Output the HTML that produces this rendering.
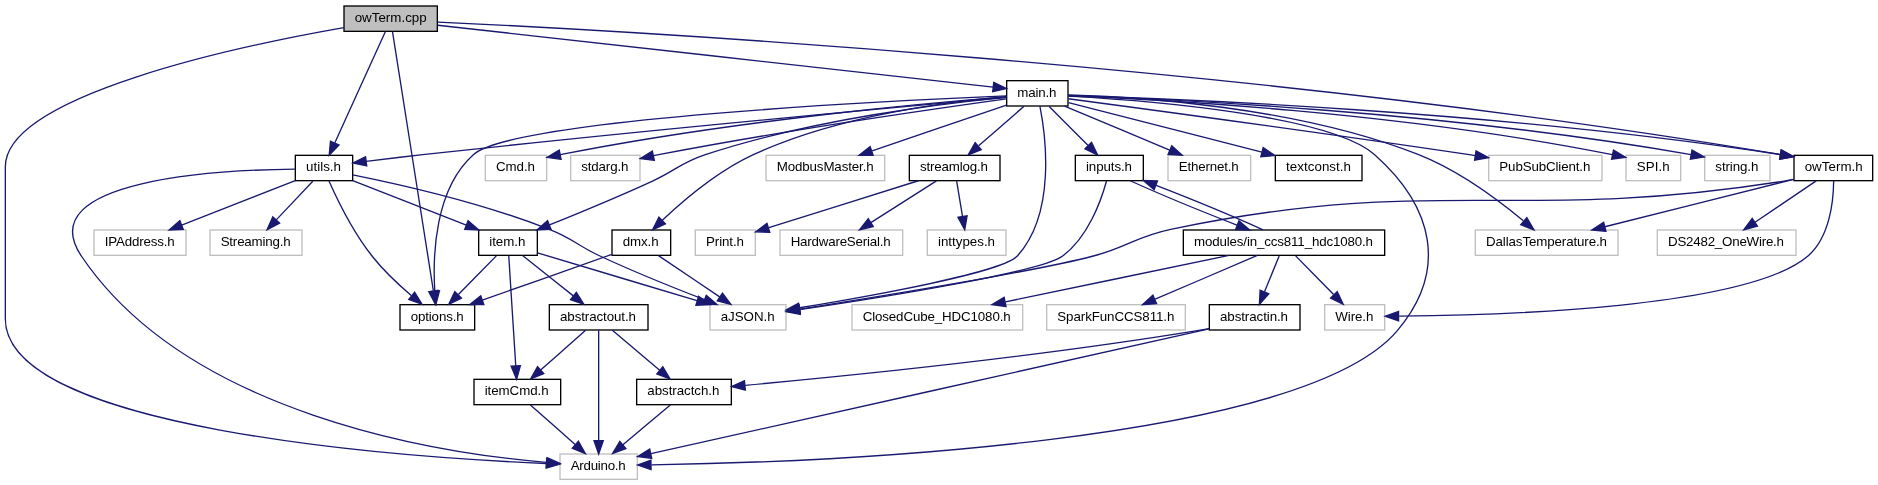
<!DOCTYPE html>
<html lang="en"><head><meta charset="utf-8"><title>owTerm.cpp include graph</title>
<style>html,body{margin:0;padding:0;background:#fff;overflow:hidden}svg{display:block;will-change:transform}.t{filter:grayscale(1);opacity:1}text{font-family:"Liberation Sans",Arial,Helvetica,sans-serif;font-size:10px;fill:#000}.e path{fill:none;stroke:#191970}.e polygon{fill:#191970;stroke:#191970}</style></head><body>
<svg width="1878" height="485" viewBox="0 0 1408.5 363.75">
<rect x="0" y="0" width="1408.5" height="363.75" fill="#fff"/>
<g transform="translate(4 360)">
<rect x="254" y="-355.5" width="70" height="19" fill="#bfbfbf" stroke="black"/>
<rect x="217.5" y="-243.5" width="43" height="19" fill="white" stroke="black"/>
<g class="e"><path d="M285.08,-336.37C276.93,-318.46 258.06,-276.92 247.16,-252.95"/><polygon points="250.23,-251.25 242.91,-243.59 243.86,-254.14 250.23,-251.25"/></g>
<rect x="416" y="-19.5" width="58" height="19" fill="white" stroke="#bfbfbf"/>
<g class="e"><path d="M253.85,-339.27C176.83,-325.72 0,-288.75 0,-235 0,-235 0,-235 0,-121 0,-37.82 296.71,-17.14 405.57,-12.35"/><polygon points="405.96,-15.84 415.8,-11.92 405.66,-8.84 405.96,-15.84"/></g>
<rect x="296" y="-131.5" width="56" height="19" fill="white" stroke="black"/>
<g class="e"><path d="M290.37,-336.3C295.52,-303.63 313.77,-187.87 321.01,-141.96"/><polygon points="324.5,-142.31 322.6,-131.88 317.58,-141.22 324.5,-142.31"/></g>
<rect x="1341.5" y="-243.5" width="59" height="19" fill="white" stroke="black"/>
<g class="e"><path d="M324.4,-343.45C456.45,-337.26 932.8,-311.44 1331.21,-244.13"/><polygon points="1331.93,-247.56 1341.2,-242.43 1330.76,-240.66 1331.93,-247.56"/></g>
<rect x="751" y="-299.5" width="46" height="19" fill="white" stroke="black"/>
<g class="e"><path d="M324.27,-341.07C414.55,-331.02 653.05,-304.47 740.9,-294.69"/><polygon points="741.3,-298.16 750.85,-293.58 740.52,-291.21 741.3,-298.16"/></g>
<g class="e"><path d="M217.28,-233.1C161.13,-232.54 18.18,-225.59 57,-168 137.08,-49.21 323.93,-20.27 405.61,-13.24"/><polygon points="406.26,-16.7 415.95,-12.42 405.71,-9.72 406.26,-16.7"/></g>
<rect x="66.5" y="-187.5" width="69" height="19" fill="white" stroke="#bfbfbf"/>
<g class="e"><path d="M217.44,-224.56C194.58,-215.62 158.27,-201.41 132.28,-191.24"/><polygon points="133.45,-187.94 122.87,-187.56 130.9,-194.46 133.45,-187.94"/></g>
<rect x="153.5" y="-187.5" width="69" height="19" fill="white" stroke="#bfbfbf"/>
<g class="e"><path d="M230.58,-224.08C223.15,-216.22 212.15,-204.57 203.19,-195.08"/><polygon points="205.68,-192.62 196.26,-187.75 200.59,-197.42 205.68,-192.62"/></g>
<rect x="528.5" y="-131.5" width="57" height="19" fill="white" stroke="#bfbfbf"/>
<g class="e"><path d="M260.57,-228.88C293.17,-222.29 356.67,-208.05 408,-188 425.78,-181.06 428.69,-176.04 446,-168 471.96,-155.94 502.09,-143.84 524.4,-135.23"/><polygon points="525.67,-138.5 533.75,-131.65 523.16,-131.96 525.67,-138.5"/></g>
<g class="e"><path d="M242.65,-224.47C248.41,-211.52 260.48,-186.45 275,-168 283.62,-157.05 295,-146.43 304.62,-138.25"/><polygon points="307.02,-140.81 312.51,-131.75 302.57,-135.41 307.02,-140.81"/></g>
<rect x="355" y="-187.5" width="44" height="19" fill="white" stroke="black"/>
<g class="e"><path d="M260.56,-224.56C283.42,-215.62 319.73,-201.41 345.72,-191.24"/><polygon points="347.1,-194.46 355.13,-187.56 344.55,-187.94 347.1,-194.46"/></g>
<g class="e"><path d="M399.07,-170.38C428.85,-161.45 482.34,-145.4 518.74,-134.48"/><polygon points="519.94,-137.77 528.52,-131.55 517.93,-131.07 519.94,-137.77"/></g>
<g class="e"><path d="M368.25,-168.08C360.53,-160.22 349.1,-148.57 339.78,-139.08"/><polygon points="342.09,-136.44 332.59,-131.75 337.1,-141.34 342.09,-136.44"/></g>
<rect x="408" y="-131.5" width="74" height="19" fill="white" stroke="black"/>
<g class="e"><path d="M387.93,-168.32C398.17,-160.18 413.72,-147.84 426,-138.09"/><polygon points="428.22,-140.79 433.88,-131.83 423.87,-135.31 428.22,-140.79"/></g>
<rect x="351.5" y="-75.5" width="65" height="19" fill="white" stroke="black"/>
<g class="e"><path d="M377.55,-168.37C378.68,-150.62 381.28,-109.67 382.82,-85.6"/><polygon points="386.31,-85.79 383.45,-75.59 379.33,-85.35 386.31,-85.79"/></g>
<g class="e"><path d="M445,-112.37C445,-94.62 445,-53.67 445,-29.6"/><polygon points="448.5,-29.59 445,-19.59 441.5,-29.59 448.5,-29.59"/></g>
<rect x="473.5" y="-75.5" width="71" height="19" fill="white" stroke="black"/>
<g class="e"><path d="M455.28,-112.32C464.84,-104.26 479.28,-92.08 490.78,-82.37"/><polygon points="493.14,-84.96 498.53,-75.83 488.63,-79.61 493.14,-84.96"/></g>
<g class="e"><path d="M435.2,-112.32C426.18,-104.34 412.59,-92.31 401.68,-82.65"/><polygon points="403.79,-79.84 393.98,-75.83 399.15,-85.08 403.79,-79.84"/></g>
<g class="e"><path d="M498.72,-56.32C489.16,-48.26 474.72,-36.08 463.22,-26.37"/><polygon points="465.37,-23.61 455.47,-19.83 460.86,-28.96 465.37,-23.61"/></g>
<g class="e"><path d="M393.8,-56.32C402.82,-48.34 416.41,-36.31 427.32,-26.65"/><polygon points="429.85,-29.08 435.02,-19.83 425.21,-23.84 429.85,-29.08"/></g>
<g class="e"><path d="M1341.22,-225.49C1338.45,-224.93 1335.68,-224.42 1333,-224 1130.84,-192.33 1074.33,-229.69 874,-188 847.3,-182.44 842.41,-174.8 816,-168 775.06,-157.06 657.71,-137.8 596,-128.19"/><polygon points="596.29,-124.69 585.88,-126.62 595.22,-131.61 596.29,-124.69"/></g>
<rect x="989.5" y="-131.5" width="45" height="19" fill="white" stroke="#bfbfbf"/>
<g class="e"><path d="M1371.24,-224.27C1371.11,-210.1 1368.6,-182.24 1352,-168 1306.45,-128.93 1121.81,-123.49 1045.38,-122.94"/><polygon points="1044.93,-119.44 1034.92,-122.89 1044.9,-126.44 1044.93,-119.44"/></g>
<rect x="1102.5" y="-187.5" width="107" height="19" fill="white" stroke="#bfbfbf"/>
<g class="e"><path d="M1341.11,-225.49C1304.36,-216.26 1241.71,-200.53 1199.6,-189.95"/><polygon points="1200.44,-186.55 1189.89,-187.51 1198.74,-193.34 1200.44,-186.55"/></g>
<rect x="1239" y="-187.5" width="104" height="19" fill="white" stroke="#bfbfbf"/>
<g class="e"><path d="M1358.15,-224.32C1345.78,-215.98 1326.87,-203.21 1312.26,-193.35"/><polygon points="1314.07,-190.35 1303.82,-187.65 1310.15,-196.15 1314.07,-190.35"/></g>
<g class="e"><path d="M750.96,-286.95C683.54,-280.89 480.87,-262.4 313,-244 299.09,-242.48 283.74,-240.63 270.63,-239.01"/><polygon points="271.04,-235.54 260.68,-237.77 270.17,-242.48 271.04,-235.54"/></g>
<g class="e"><path d="M797.27,-287.9C853.21,-284.8 993.05,-274.14 1027,-244 1071.23,-204.73 1082.19,-157.17 1044,-112 971.62,-26.4 606.4,-13.32 484.6,-11.34"/><polygon points="484.3,-7.84 474.25,-11.19 484.2,-14.84 484.3,-7.84"/></g>
<g class="e"><path d="M775.93,-280.33C780.24,-258.39 788.18,-200.12 759,-168 748.05,-155.95 651.28,-138.39 595.75,-129.18"/><polygon points="596,-125.67 585.56,-127.5 594.86,-132.58 596,-125.67"/></g>
<g class="e"><path d="M750.79,-288.09C666.66,-284.59 381.03,-270.8 351,-244 322.05,-218.17 320.48,-168.73 322.09,-141.73"/><polygon points="325.59,-141.91 322.9,-131.67 318.61,-141.35 325.59,-141.91"/></g>
<g class="e"><path d="M750.8,-287.03C706.12,-282.75 605.45,-270.77 525,-244 506.14,-237.72 503.07,-232.27 485,-224 459.37,-212.27 429.8,-200.04 408.09,-191.29"/><polygon points="409.29,-188 398.7,-187.53 406.69,-194.5 409.29,-188"/></g>
<g class="e"><path d="M797.04,-288.4C872.47,-286.18 1118.84,-276.84 1331.13,-244.08"/><polygon points="1331.88,-247.51 1341.21,-242.51 1330.79,-240.59 1331.88,-247.51"/></g>
<g class="e"><path d="M797.13,-288.74C846.96,-287.46 967.42,-280.51 1060,-244 1090.09,-232.13 1120.23,-209.55 1138.5,-194.38"/><polygon points="1141.12,-196.76 1146.47,-187.61 1136.58,-191.42 1141.12,-196.76"/></g>
<rect x="872" y="-243.5" width="62" height="19" fill="white" stroke="#bfbfbf"/>
<g class="e"><path d="M794.44,-280.44C815.67,-271.56 849.1,-257.56 873.25,-247.45"/><polygon points="874.78,-250.61 882.66,-243.52 872.08,-244.15 874.78,-250.61"/></g>
<rect x="952.5" y="-243.5" width="65" height="19" fill="white" stroke="black"/>
<g class="e"><path d="M797.39,-283.01C832.33,-274.07 898.71,-257.08 942.41,-245.9"/><polygon points="943.37,-249.27 952.19,-243.4 941.63,-242.49 943.37,-249.27"/></g>
<rect x="455" y="-187.5" width="44" height="19" fill="white" stroke="black"/>
<g class="e"><path d="M750.87,-287.5C710.58,-284.18 625.66,-273.92 561,-244 534.49,-231.73 508.63,-209.76 492.76,-194.79"/><polygon points="495.04,-192.13 485.43,-187.69 490.18,-197.16 495.04,-192.13"/></g>
<rect x="1112.5" y="-243.5" width="85" height="19" fill="white" stroke="#bfbfbf"/>
<g class="e"><path d="M797.2,-285.93C850.42,-278.85 985.37,-260.71 1098,-244 1099.46,-243.78 1100.93,-243.56 1102.42,-243.34"/><polygon points="1103.01,-246.79 1112.37,-241.82 1101.96,-239.87 1103.01,-246.79"/></g>
<rect x="1215.5" y="-243.5" width="41" height="19" fill="white" stroke="#bfbfbf"/>
<g class="e"><path d="M797.25,-288.2C861.15,-285.65 1044.88,-276.06 1205.18,-244.03"/><polygon points="1206.12,-247.41 1215.22,-241.99 1204.72,-240.55 1206.12,-247.41"/></g>
<rect x="1274.5" y="-243.5" width="49" height="19" fill="white" stroke="#bfbfbf"/>
<g class="e"><path d="M797.25,-288.32C866.87,-285.97 1079.81,-276.59 1264.36,-244.02"/><polygon points="1265.01,-247.46 1274.24,-242.25 1263.78,-240.57 1265.01,-247.46"/></g>
<rect x="570.5" y="-243.5" width="89" height="19" fill="white" stroke="#bfbfbf"/>
<g class="e"><path d="M750.88,-281.15C724.42,-272.16 680.78,-257.34 650.11,-246.92"/><polygon points="650.84,-243.48 640.25,-243.58 648.59,-250.11 650.84,-243.48"/></g>
<rect x="360" y="-243.5" width="46" height="19" fill="white" stroke="#bfbfbf"/>
<g class="e"><path d="M750.71,-287.29C694.65,-282.93 547.7,-269.98 416.17,-243.97"/><polygon points="416.81,-240.53 406.32,-241.99 415.44,-247.39 416.81,-240.53"/></g>
<rect x="424" y="-243.5" width="52" height="19" fill="white" stroke="#bfbfbf"/>
<g class="e"><path d="M750.72,-285.83C702.11,-279.09 586.34,-262.45 490,-244 488.74,-243.76 487.46,-243.51 486.17,-243.25"/><polygon points="486.71,-239.78 476.2,-241.15 485.26,-246.63 486.71,-239.78"/></g>
<rect x="802.5" y="-243.5" width="51" height="19" fill="white" stroke="black"/>
<g class="e"><path d="M782.92,-280.08C790.78,-272.22 802.43,-260.57 811.92,-251.08"/><polygon points="814.65,-253.3 819.25,-243.75 809.7,-248.35 814.65,-253.3"/></g>
<rect x="678" y="-243.5" width="68" height="19" fill="white" stroke="black"/>
<g class="e"><path d="M764.04,-280.32C754.87,-272.34 741.06,-260.31 729.97,-250.65"/><polygon points="731.98,-247.76 722.14,-243.83 727.38,-253.04 731.98,-247.76"/></g>
<g class="e"><path d="M489.85,-168.32C502.22,-159.98 521.13,-147.21 535.74,-137.35"/><polygon points="537.85,-140.15 544.18,-131.65 533.93,-134.35 537.85,-140.15"/></g>
<g class="e"><path d="M454.75,-169.15C429.29,-160.16 387.3,-145.34 357.78,-134.92"/><polygon points="358.89,-131.6 348.3,-131.58 356.56,-138.2 358.89,-131.6"/></g>
<rect x="517.5" y="-187.5" width="45" height="19" fill="white" stroke="#bfbfbf"/>
<g class="e"><path d="M825.89,-224.24C821.99,-210.02 812.23,-182.1 793,-168 777.27,-156.07 658.49,-136.96 595.68,-127.72"/><polygon points="596.14,-124.25 585.74,-126.27 595.13,-131.18 596.14,-124.25"/></g>
<rect x="883.5" y="-187.5" width="151" height="19" fill="white" stroke="black"/>
<g class="e"><path d="M843.67,-224.44C863.45,-215.48 897.59,-201.31 923.7,-191.18"/><polygon points="925.18,-194.36 933.26,-187.52 922.67,-187.83 925.18,-194.36"/></g>
<g class="e"><path d="M967.75,-168.08C975.47,-160.22 986.9,-148.57 996.22,-139.08"/><polygon points="998.9,-141.34 1003.41,-131.75 993.91,-136.44 998.9,-141.34"/></g>
<g class="e"><path d="M943.33,-187.56C923.5,-196.55 889.23,-210.76 863.1,-220.9"/><polygon points="861.62,-217.72 853.53,-224.56 864.12,-224.25 861.62,-217.72"/></g>
<rect x="781" y="-131.5" width="104" height="19" fill="white" stroke="#bfbfbf"/>
<g class="e"><path d="M939.03,-168.44C918.39,-159.6 885.94,-145.69 862.37,-135.59"/><polygon points="863.44,-132.24 852.87,-131.52 860.68,-138.67 863.44,-132.24"/></g>
<rect x="903" y="-131.5" width="68" height="19" fill="white" stroke="black"/>
<g class="e"><path d="M955.37,-168.08C952.39,-160.77 948.07,-150.18 944.38,-141.1"/><polygon points="947.58,-139.69 940.57,-131.75 941.1,-142.33 947.58,-139.69"/></g>
<rect x="635" y="-131.5" width="128" height="19" fill="white" stroke="#bfbfbf"/>
<g class="e"><path d="M917.8,-168.44C872.35,-159 799.16,-143.8 750.09,-133.61"/><polygon points="750.51,-130.12 740.01,-131.52 749.08,-136.98 750.51,-130.12"/></g>
<g class="e"><path d="M902.79,-113.35C814.26,-93.56 577.99,-40.73 484.18,-19.76"/><polygon points="484.77,-16.3 474.24,-17.54 483.24,-23.14 484.77,-16.3"/></g>
<g class="e"><path d="M902.78,-113.55C899.82,-112.99 896.86,-112.47 894,-112 772.13,-92.17 627.19,-77.65 554.85,-71.01"/><polygon points="554.99,-67.51 544.71,-70.09 554.35,-74.48 554.99,-67.51"/></g>
<rect x="581" y="-187.5" width="92" height="19" fill="white" stroke="#bfbfbf"/>
<g class="e"><path d="M698.34,-224.32C685.08,-215.9 664.73,-202.97 649.15,-193.07"/><polygon points="650.94,-190.06 640.62,-187.65 647.19,-195.97 650.94,-190.06"/></g>
<g class="e"><path d="M684.75,-224.44C654.32,-214.89 605.09,-199.44 572.64,-189.25"/><polygon points="573.32,-185.79 562.73,-186.14 571.22,-192.47 573.32,-185.79"/></g>
<rect x="691.5" y="-187.5" width="59" height="19" fill="white" stroke="#bfbfbf"/>
<g class="e"><path d="M713.49,-224.08C714.68,-216.93 716.39,-206.64 717.88,-197.69"/><polygon points="721.35,-198.19 719.54,-187.75 714.45,-197.04 721.35,-198.19"/></g>
<g class="t"><text x="262" y="-343.5" textLength="54" lengthAdjust="spacing">owTerm.cpp</text>
<text x="225.5" y="-231.5" textLength="26.25" lengthAdjust="spacing">utils.h</text>
<text x="424" y="-7.5" textLength="41.25" lengthAdjust="spacing">Arduino.h</text>
<text x="304" y="-119.5" textLength="39.75" lengthAdjust="spacing">options.h</text>
<text x="1349.5" y="-231.5" textLength="43.5" lengthAdjust="spacing">owTerm.h</text>
<text x="759" y="-287.5" textLength="29.25" lengthAdjust="spacing">main.h</text>
<text x="74.5" y="-175.5" textLength="52.5" lengthAdjust="spacing">IPAddress.h</text>
<text x="161.5" y="-175.5" textLength="52.5" lengthAdjust="spacing">Streaming.h</text>
<text x="536.5" y="-119.5" textLength="40.5" lengthAdjust="spacing">aJSON.h</text>
<text x="363" y="-175.5" textLength="27" lengthAdjust="spacing">item.h</text>
<text x="416" y="-119.5" textLength="57" lengthAdjust="spacing">abstractout.h</text>
<text x="359.5" y="-63.5" textLength="48" lengthAdjust="spacing">itemCmd.h</text>
<text x="481.5" y="-63.5" textLength="54" lengthAdjust="spacing">abstractch.h</text>
<text x="997.5" y="-119.5" textLength="28.5" lengthAdjust="spacing">Wire.h</text>
<text x="1110.5" y="-175.5" textLength="90.75" lengthAdjust="spacing">DallasTemperature.h</text>
<text x="1247" y="-175.5" textLength="87" lengthAdjust="spacing">DS2482_OneWire.h</text>
<text x="880" y="-231.5" textLength="45" lengthAdjust="spacing">Ethernet.h</text>
<text x="960.5" y="-231.5" textLength="48.75" lengthAdjust="spacing">textconst.h</text>
<text x="463" y="-175.5" textLength="27" lengthAdjust="spacing">dmx.h</text>
<text x="1120.5" y="-231.5" textLength="68.25" lengthAdjust="spacing">PubSubClient.h</text>
<text x="1223.5" y="-231.5" textLength="24.75" lengthAdjust="spacing">SPI.h</text>
<text x="1282.5" y="-231.5" textLength="32.25" lengthAdjust="spacing">string.h</text>
<text x="578.5" y="-231.5" textLength="72.75" lengthAdjust="spacing">ModbusMaster.h</text>
<text x="368" y="-231.5" textLength="29.25" lengthAdjust="spacing">Cmd.h</text>
<text x="432" y="-231.5" textLength="35.25" lengthAdjust="spacing">stdarg.h</text>
<text x="810.5" y="-231.5" textLength="34.5" lengthAdjust="spacing">inputs.h</text>
<text x="686" y="-231.5" textLength="51" lengthAdjust="spacing">streamlog.h</text>
<text x="525.5" y="-175.5" textLength="28.5" lengthAdjust="spacing">Print.h</text>
<text x="891.5" y="-175.5" textLength="134.25" lengthAdjust="spacing">modules/in_ccs811_hdc1080.h</text>
<text x="789" y="-119.5" textLength="87.75" lengthAdjust="spacing">SparkFunCCS811.h</text>
<text x="911" y="-119.5" textLength="51" lengthAdjust="spacing">abstractin.h</text>
<text x="643" y="-119.5" textLength="111" lengthAdjust="spacing">ClosedCube_HDC1080.h</text>
<text x="589" y="-175.5" textLength="75" lengthAdjust="spacing">HardwareSerial.h</text>
<text x="699.5" y="-175.5" textLength="42.75" lengthAdjust="spacing">inttypes.h</text></g>
</g></svg></body></html>
